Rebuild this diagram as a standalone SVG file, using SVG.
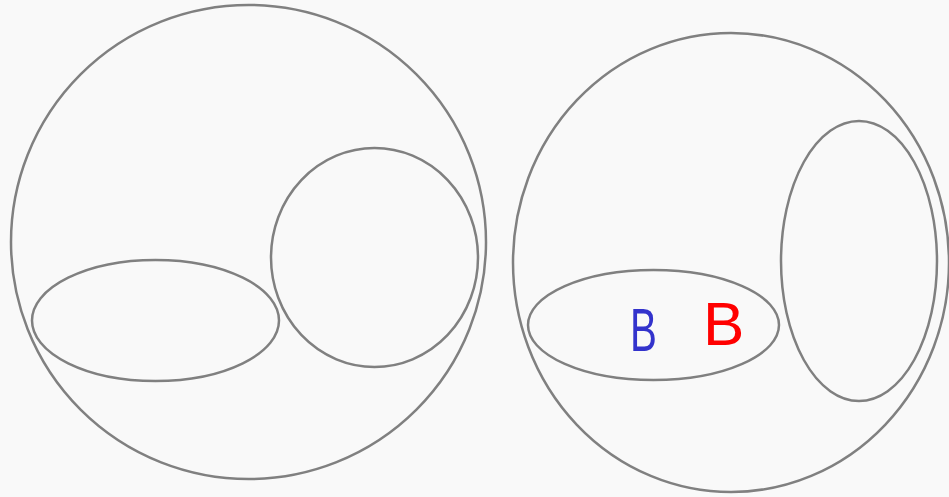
<svg xmlns="http://www.w3.org/2000/svg" width="949" height="497" viewBox="0 0 949 497">
<style>
.sh{fill:none;stroke:#808080;stroke-width:2.5}
.lb{font-family:"Liberation Sans",Arial,sans-serif;font-size:62px}
</style>
<rect width="949" height="497" fill="#f9f9f9"/>
<g id="left-outer"><ellipse class="sh" cx="248.5" cy="242" rx="237.5" ry="237"/></g>
<g id="left-ellipse"><ellipse class="sh" cx="155.5" cy="320.5" rx="123.5" ry="60.5"/></g>
<g id="left-circle"><ellipse class="sh" cx="374.5" cy="257.5" rx="103.5" ry="109.5"/></g>
<g id="right-outer"><ellipse class="sh" cx="731" cy="262.5" rx="218" ry="229.5"/></g>
<g id="right-ellipse"><ellipse class="sh" cx="653.5" cy="325" rx="125.5" ry="55"/></g>
<g id="right-tall"><ellipse class="sh" cx="859" cy="261" rx="78" ry="140"/></g>
<g id="labels">
<text class="lb" fill="#3333cc" transform="translate(630,351) scale(0.65,1)">B</text>
<text class="lb" fill="#ff0000" x="703" y="345">B</text>
</g>
<g id="connectors"/>
</svg>
